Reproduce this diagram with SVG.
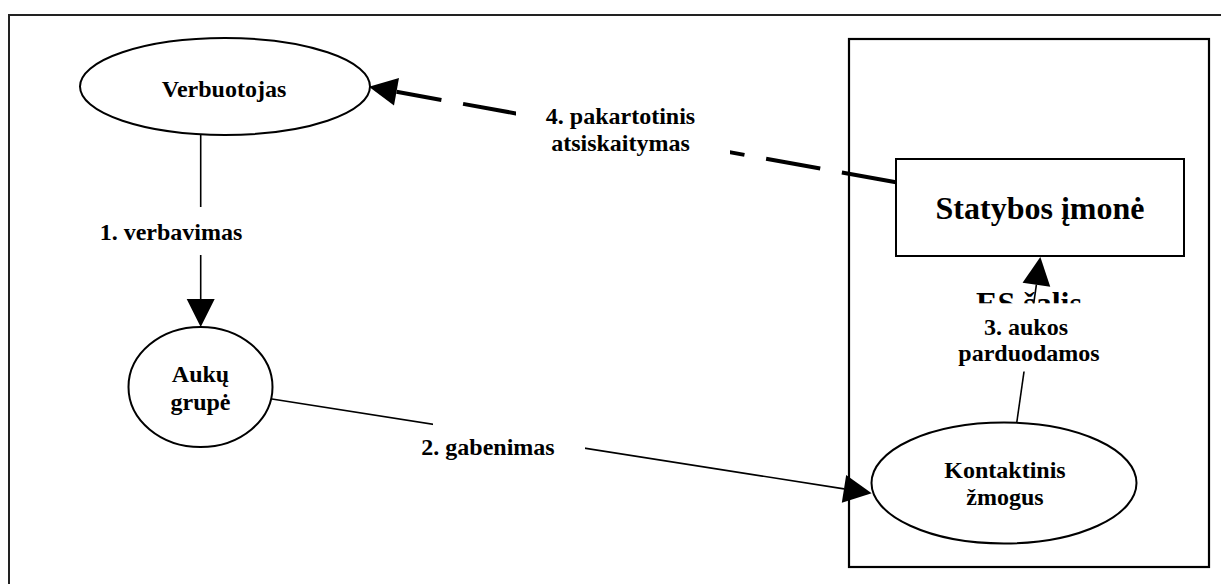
<svg xmlns="http://www.w3.org/2000/svg" width="1221" height="584" viewBox="0 0 1221 584">
  <style>
    .t { font-family: "Liberation Serif", "Times New Roman", serif; font-weight: bold; fill: #000; text-anchor: middle; }
    .s24 { font-size: 24px; }
    .s32 { font-size: 32px; }
    .node { fill: #fff; stroke: #000; stroke-width: 2; }
    .conn { fill: none; stroke: #000; stroke-width: 1.6; }
    .dash { fill: none; stroke: #000; stroke-width: 4; stroke-dasharray: 55 22; }
    .lbg { fill: #fff; stroke: none; }
  </style>
  <defs>
    <marker id="arrow" markerUnits="userSpaceOnUse" markerWidth="29" markerHeight="29" refX="0" refY="14" orient="auto" overflow="visible">
      <path d="M0,0 L28,14 L0,28 Z" fill="#000"/>
    </marker>
    <clipPath id="clipES">
      <rect x="940" y="270" width="180" height="33.5"/>
    </clipPath>
  </defs>
  <rect x="0" y="0" width="1221" height="584" fill="#fff"/>

  <!-- outer frame -->
  <rect x="9" y="15" width="1230" height="600" fill="none" stroke="#222" stroke-width="2"/>

  <!-- EU country container -->
  <g id="es-salis">
    <rect x="849" y="39" width="360" height="528" fill="none" stroke="#000" stroke-width="2.2"/>
    <text class="t s32" x="1029" y="314" clip-path="url(#clipES)">ES šalis</text>
  </g>

  <g id="statybos-imone">
    <rect class="node" x="896" y="159" width="288" height="97"/>
    <text class="t s32" x="1040" y="219">Statybos įmonė</text>
  </g>

  <g id="verbuotojas">
    <ellipse class="node" cx="225" cy="86.5" rx="145" ry="48.5"/>
    <text class="t s24" x="224" y="97">Verbuotojas</text>
  </g>

  <g id="auku-grupe">
    <ellipse class="node" cx="200.5" cy="387" rx="72" ry="60"/>
    <text class="t s24" x="200.5" y="382">Aukų</text>
    <text class="t s24" x="200.5" y="410">grupė</text>
  </g>

  <g id="kontaktinis-zmogus">
    <ellipse class="node" cx="1004" cy="483" rx="132.5" ry="60.5"/>
    <text class="t s24" x="1005" y="478">Kontaktinis</text>
    <text class="t s24" x="1005" y="505">žmogus</text>
  </g>

  <g id="connectors">
    <path class="conn" d="M200.7,134.5 L200.7,299" marker-end="url(#arrow)"/>
    <path class="conn" d="M272,399 L844,488.9" marker-end="url(#arrow)"/>
    <path class="conn" d="M1016.7,423 L1036.4,284.7" marker-end="url(#arrow)"/>
    <path class="dash" d="M896,182.3 L396.5,91.8" marker-end="url(#arrow)"/>

    <!-- labels -->
    <rect class="lbg" x="95" y="207" width="150" height="48"/>
    <text class="t s24" x="171" y="240">1. verbavimas</text>

    <rect class="lbg" x="433" y="415" width="152" height="48"/>
    <text class="t s24" x="488" y="455">2. gabenimas</text>

    <rect class="lbg" x="955" y="303.5" width="150" height="68"/>
    <text class="t s24" x="1026" y="335">3. aukos</text>
    <text class="t s24" x="1029" y="361">parduodamos</text>

    <rect class="lbg" x="516" y="98" width="214" height="62"/>
    <text class="t s24" x="620.5" y="124">4. pakartotinis</text>
    <text class="t s24" x="620.5" y="151">atsiskaitymas</text>
  </g>
</svg>
